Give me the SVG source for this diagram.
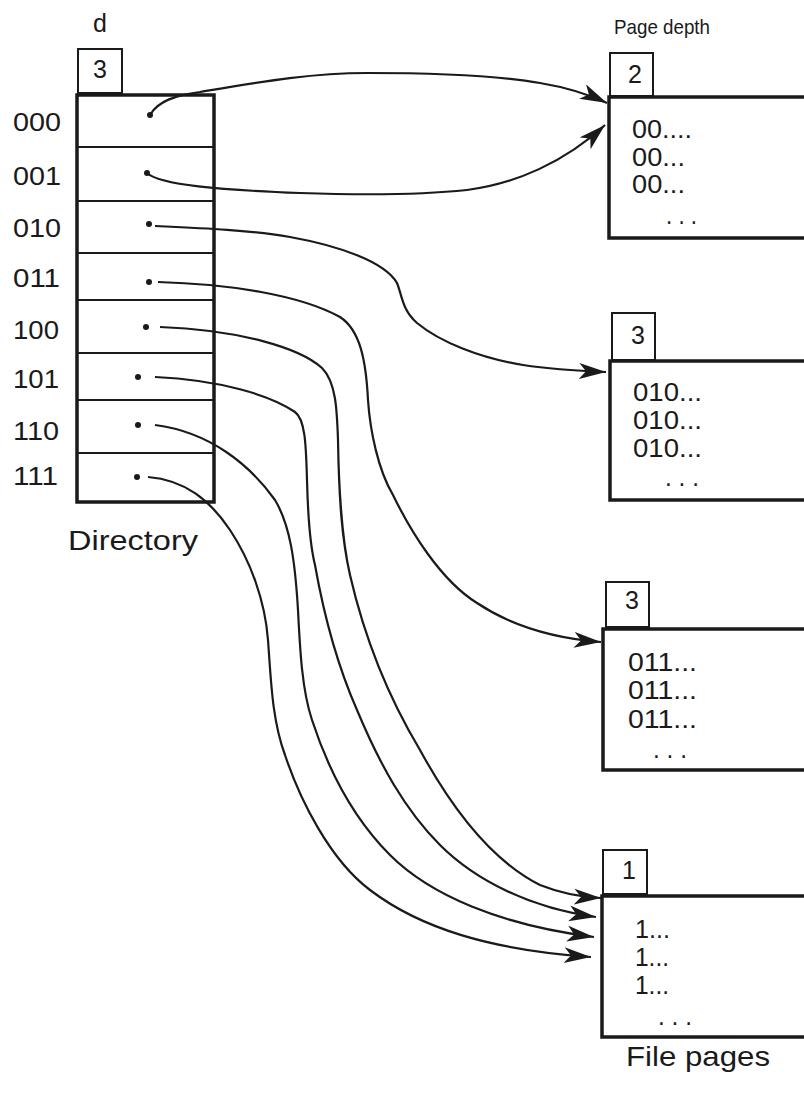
<svg xmlns="http://www.w3.org/2000/svg" width="804" height="1095" viewBox="0 0 804 1095">
<style>
text{font-family:"Liberation Sans",Arial,sans-serif;fill:#1a1a1a}
.lbl{font-size:25px}
.num{font-size:25px;text-anchor:middle}
.pg{font-size:25px}
.cap{font-size:28px}
.box{fill:#fff;stroke:#1a1a1a;stroke-width:2}
.frame{fill:#fff;stroke:#1a1a1a;stroke-width:3.5}
.sep{stroke:#1a1a1a;stroke-width:2.2}
.dot{fill:#1a1a1a}
.conn path{fill:none;stroke:#1a1a1a;stroke-width:2.2}
</style>
<defs>
<marker id="ah" markerUnits="userSpaceOnUse" markerWidth="30" markerHeight="18" refX="27" refY="8" orient="auto">
<path d="M0,0 L27,8 L0,16 L7,8 z" fill="#1a1a1a"/>
</marker>
</defs>
<rect width="804" height="1095" fill="#fff"/>

<g id="directory">
<text class="lbl" x="93" y="32" font-size="23">d</text>
<rect class="box" x="78" y="49" width="44" height="44"/>
<text class="num" x="100" y="78">3</text>
<rect class="frame" x="77" y="95" width="137" height="407"/>
<line class="sep" x1="77" y1="147" x2="214" y2="147"/>
<line class="sep" x1="77" y1="201" x2="214" y2="201"/>
<line class="sep" x1="77" y1="253" x2="214" y2="253"/>
<line class="sep" x1="77" y1="300" x2="214" y2="300"/>
<line class="sep" x1="77" y1="353" x2="214" y2="353"/>
<line class="sep" x1="77" y1="400" x2="214" y2="400"/>
<line class="sep" x1="77" y1="453" x2="214" y2="453"/>
<text class="lbl" x="13" y="131" textLength="48" lengthAdjust="spacingAndGlyphs">000</text>
<text class="lbl" x="13" y="185" textLength="48" lengthAdjust="spacingAndGlyphs">001</text>
<text class="lbl" x="13" y="237" textLength="48" lengthAdjust="spacingAndGlyphs">010</text>
<text class="lbl" x="13" y="287" textLength="47" lengthAdjust="spacingAndGlyphs">011</text>
<text class="lbl" x="13" y="339" textLength="46" lengthAdjust="spacingAndGlyphs">100</text>
<text class="lbl" x="13" y="388" textLength="46" lengthAdjust="spacingAndGlyphs">101</text>
<text class="lbl" x="13" y="440" textLength="46" lengthAdjust="spacingAndGlyphs">110</text>
<text class="lbl" x="13" y="485" textLength="45" lengthAdjust="spacingAndGlyphs">111</text>
<circle class="dot" cx="150" cy="115" r="3"/>
<circle class="dot" cx="147" cy="173" r="3"/>
<circle class="dot" cx="149" cy="224" r="3"/>
<circle class="dot" cx="149" cy="282" r="3"/>
<circle class="dot" cx="146" cy="327" r="3"/>
<circle class="dot" cx="138" cy="377" r="3"/>
<circle class="dot" cx="138" cy="425" r="3"/>
<circle class="dot" cx="137" cy="477" r="3"/>
<text class="cap" x="68" y="550" textLength="130" lengthAdjust="spacingAndGlyphs">Directory</text>
</g>

<g id="page-depth-label">
<text x="614" y="34" font-size="21" textLength="96" lengthAdjust="spacingAndGlyphs">Page depth</text>
</g>

<g id="page1">
<rect class="box" x="610" y="53" width="43" height="43"/>
<text class="num" x="635" y="83">2</text>
<rect class="frame" x="609" y="97" width="220" height="141"/>
<text class="pg" x="632" y="138" textLength="60" lengthAdjust="spacingAndGlyphs">00....</text>
<text class="pg" x="632" y="166" textLength="53" lengthAdjust="spacingAndGlyphs">00...</text>
<text class="pg" x="632" y="193" textLength="53" lengthAdjust="spacingAndGlyphs">00...</text>
<text class="pg" x="666" y="224" textLength="31" lengthAdjust="spacingAndGlyphs">. . .</text>
</g>

<g id="page2">
<rect class="box" x="612" y="313" width="43" height="47"/>
<text class="num" x="638" y="344">3</text>
<rect class="frame" x="610" y="361" width="220" height="139"/>
<text class="pg" x="633" y="401" textLength="69" lengthAdjust="spacingAndGlyphs">010...</text>
<text class="pg" x="633" y="429" textLength="69" lengthAdjust="spacingAndGlyphs">010...</text>
<text class="pg" x="633" y="457" textLength="69" lengthAdjust="spacingAndGlyphs">010...</text>
<text class="pg" x="665" y="486" textLength="34" lengthAdjust="spacingAndGlyphs">. . .</text>
</g>

<g id="page3">
<rect class="box" x="606" y="582" width="43" height="45"/>
<text class="num" x="632" y="609">3</text>
<rect class="frame" x="603" y="629" width="225" height="141"/>
<text class="pg" x="628" y="671" textLength="69" lengthAdjust="spacingAndGlyphs">011...</text>
<text class="pg" x="628" y="699" textLength="69" lengthAdjust="spacingAndGlyphs">011...</text>
<text class="pg" x="628" y="728" textLength="69" lengthAdjust="spacingAndGlyphs">011...</text>
<text class="pg" x="653" y="758" textLength="34" lengthAdjust="spacingAndGlyphs">. . .</text>
</g>

<g id="page4">
<rect class="box" x="603" y="850" width="44" height="44"/>
<text class="num" x="629" y="879">1</text>
<rect class="frame" x="602" y="896" width="225" height="141"/>
<text class="pg" x="635" y="938" textLength="35" lengthAdjust="spacingAndGlyphs">1...</text>
<text class="pg" x="635" y="966" textLength="34" lengthAdjust="spacingAndGlyphs">1...</text>
<text class="pg" x="635" y="994" textLength="34" lengthAdjust="spacingAndGlyphs">1...</text>
<text class="pg" x="658" y="1025" textLength="34" lengthAdjust="spacingAndGlyphs">. . .</text>
<text class="cap" x="626" y="1066" font-size="26" textLength="144" lengthAdjust="spacingAndGlyphs">File pages</text>
</g>

<g id="connectors" class="conn">
<path marker-end="url(#ah)" d="M150,115 C158,101 176,95 200,92 C260,82 310,73 367,73 C430,73 500,76 540,83 C570,88 590,95 607,103"/>
<path marker-end="url(#ah)" d="M147,173 C160,185 220,190 300,193 C360,195 420,195 467,190 C515,184 565,162 605,125"/>
<path marker-end="url(#ah)" d="M155,226 C200,228 250,230 290,237 C340,246 385,262 397,283 C402,295 402,310 417,323 C440,342 480,358 523,365 C555,370 580,371 606,372"/>
<path marker-end="url(#ah)" d="M158,282 C230,284 300,295 340,317 C360,330 366,360 368,400 C370,430 378,470 393,495 C410,530 440,580 477,603 C510,625 550,638 601,642"/>
<path marker-end="url(#ah)" d="M160,327 C240,330 300,348 322,368 C336,382 337,410 338,440 C339,500 342,540 350,575 C365,640 390,700 420,750 C450,805 490,860 540,885 C560,893 580,897 601,898"/>
<path marker-end="url(#ah)" d="M155,377 C220,380 270,395 295,412 C306,420 306,450 307,480 C308,520 310,545 315,565 C323,610 335,660 357,710 C380,765 405,810 440,845 C475,880 530,908 596,917"/>
<path marker-end="url(#ah)" d="M155,425 C210,432 250,465 275,500 C290,525 295,560 298,610 C300,650 302,690 312,720 C330,775 355,820 390,855 C430,895 500,925 594,937"/>
<path marker-end="url(#ah)" d="M148,477 C185,480 210,500 230,530 C250,560 265,600 268,640 C271,680 272,720 285,755 C300,800 330,860 370,890 C420,928 490,950 591,957"/>
</g>
</svg>
